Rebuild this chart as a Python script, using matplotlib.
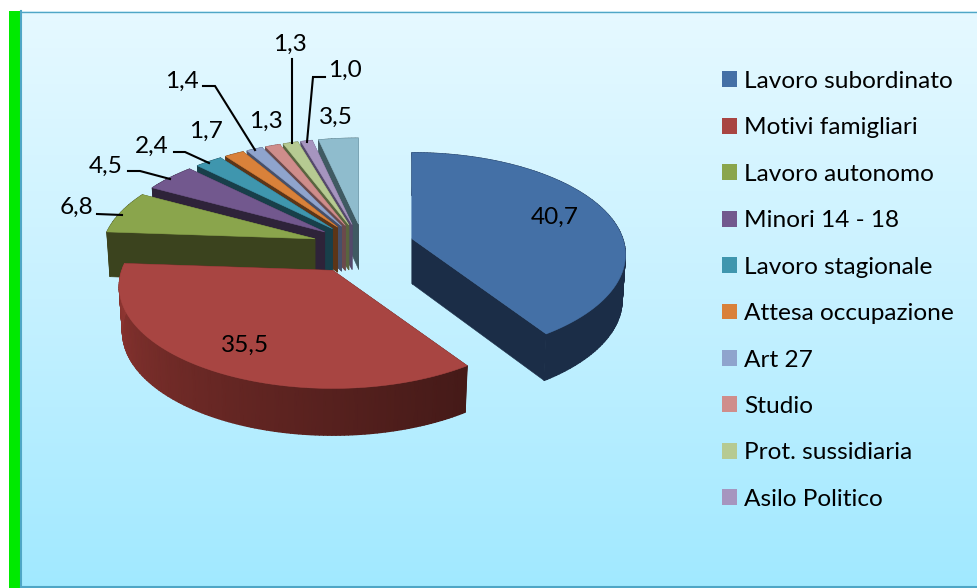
import numpy as np
import matplotlib
matplotlib.use("Agg")
import matplotlib.pyplot as plt
from matplotlib.patches import Polygon, Rectangle, Patch
from matplotlib.colors import LinearSegmentedColormap, to_rgb

# ---------- data ----------
categories = ["Lavoro subordinato", "Motivi famigliari", "Lavoro autonomo", "Minori 14 - 18",
              "Lavoro stagionale", "Attesa occupazione", "Art 27", "Studio",
              "Prot. sussidiaria", "Asilo Politico", ""]
values = [40.7, 35.5, 6.8, 4.5, 2.4, 1.7, 1.4, 1.3, 1.3, 1.0, 3.5]
value_labels = ["40,7", "35,5", "6,8", "4,5", "2,4", "1,7", "1,4", "1,3", "1,3", "1,0", "3,5"]

# ---------- styles ----------
top_colors = ["#4470a6", "#a84542", "#8aa54c", "#72588e", "#3f96ae", "#d9813a",
              "#8fa4cd", "#cf8d8b", "#b6ca92", "#a695bf", "#8fbccd"]
wall_colors = ["#1b2d47", "#451a18", "#3b431e", "#2e2339", "#183f4a", "#5c3517",
               "#46506a", "#6b4a4c", "#59653f", "#54496b", "#3f5a62"]
label_pos = [(555, 217), (245, 345), (76, 207), (106, 166), (152, 146), (206, 131),
             (182, 81), (266, 121), (290, 44), (345, 70), (336, 117)]
leaders = [None, None,
           [(97, 214), (122, 215)],
           [(128, 171), (140, 171), (170, 179)],
           [(174, 152), (185, 152), (209, 163)],
           None,
           [(203, 86), (215, 86), (255, 150)],
           None,
           [(292, 59), (292, 143)],
           [(325, 77), (313, 77), (307, 142)],
           None]
CX, CY = 363.5, 245.5      # pie centre (pixels)
RX, RY, K = 211, 99.5, 0.157   # projection
EXPLODE = 0.25
DEPTH = 45
FS = 17.6

plt.rcParams["font.family"] = ["Lato", "DejaVu Sans"]
fig = plt.figure(figsize=(9.78, 5.88), dpi=100, facecolor="white")
ax = fig.add_axes([0, 0, 1, 1])
ax.axis("off")

# ---------- background ----------
ax.add_patch(Rectangle((9, 11), 12, 577, fc="#00ea00", ec="none", zorder=1))
cmap = LinearSegmentedColormap.from_list("bg", ["#e6f9ff", "#c6f1ff", "#a1e9ff"])
grad = np.linspace(0, 1, 256)[:, None]
ax.imshow(grad, cmap=cmap, extent=(21, 978, 587, 11), aspect="auto", zorder=1)
ax.set_xlim(0, 978)
ax.set_ylim(588, 0)
ax.plot([21, 978], [11.5, 11.5], color="#4fa6c6", lw=1, zorder=2)
ax.plot([21, 21], [11, 587], color="#4fa6c6", lw=1.5, zorder=2)
ax.plot([21, 978], [586.8, 586.8], color="#4fa6c6", lw=1.5, zorder=2)


def proj(theta):
    X, Y = np.sin(theta), np.cos(theta)
    w = 1 + K * Y
    return RX * X / w, -RY * Y / w, Y


def poly(pts, color, z):
    ax.add_patch(Polygon(pts, closed=True, fc=color, ec=color, lw=0.4, zorder=z))


fracs = np.array(values) / sum(values)
edges = np.concatenate([[0], np.cumsum(fracs)]) * 2 * np.pi

for i in range(len(values) - 1, -1, -1):
    z = 10 + (len(values) - i)
    a0, a1 = edges[i], edges[i + 1]
    mx, my, _ = proj((a0 + a1) / 2)
    ox, oy = CX + EXPLODE * mx, CY + EXPLODE * my
    th = np.linspace(a0, a1, max(8, int((a1 - a0) * 60)))
    px, py, pY = proj(th)
    top = np.c_[ox + px, oy + py]
    bot = np.c_[ox + 0.985 * px, oy + py + DEPTH - 2 * pY]
    apex_b = (ox, oy + DEPTH)
    # radial walls
    poly([(ox, oy), tuple(top[0]), tuple(bot[0]), apex_b], wall_colors[i], z)
    poly([(ox, oy), tuple(top[-1]), tuple(bot[-1]), apex_b], wall_colors[i], z)
    # rim as a smooth mesh (the red slice is lit from the left)
    base = np.array(to_rgb(wall_colors[i]))
    t = np.linspace(0, 1, len(th))
    gain = 1 + (1.1 * t ** 1.1 if i == 1 else 0 * t)
    rgb = np.clip(base[None, :] * gain[:, None], 0, 1)
    mesh_x = np.vstack([top[:, 0], bot[:, 0]])
    mesh_y = np.vstack([top[:, 1], bot[:, 1]])
    mesh_c = np.stack([rgb, rgb])
    ax.pcolormesh(mesh_x, mesh_y, mesh_c, shading="gouraud", zorder=z)
    # top face
    poly(np.vstack([[ox, oy], top]), top_colors[i], z + 0.5)

ax.set_xlim(0, 978)
ax.set_ylim(588, 0)

# ---------- labels and leaders ----------
for lab, pos, ld in zip(value_labels, label_pos, leaders):
    ax.text(pos[0], pos[1], lab, ha="center", va="center", fontsize=FS, color="black", zorder=40)
    if ld:
        xs, ys = zip(*ld)
        ax.plot(xs, ys, color="black", lw=1.5, zorder=41, solid_joinstyle="miter")

# ---------- legend ----------
handles = [Patch(fc=c, ec="none", label=l) for c, l in zip(top_colors[:10], categories[:10])]
ax.legend(handles=handles, loc="upper left", bbox_to_anchor=(722 / 978, 1 - 71 / 588),
          bbox_transform=ax.transAxes, frameon=False, fontsize=FS, labelspacing=1.04,
          handlelength=0.62, handleheight=0.62, handletextpad=0.28, borderaxespad=0, borderpad=0)

fig.savefig("out.png", dpi=100)
